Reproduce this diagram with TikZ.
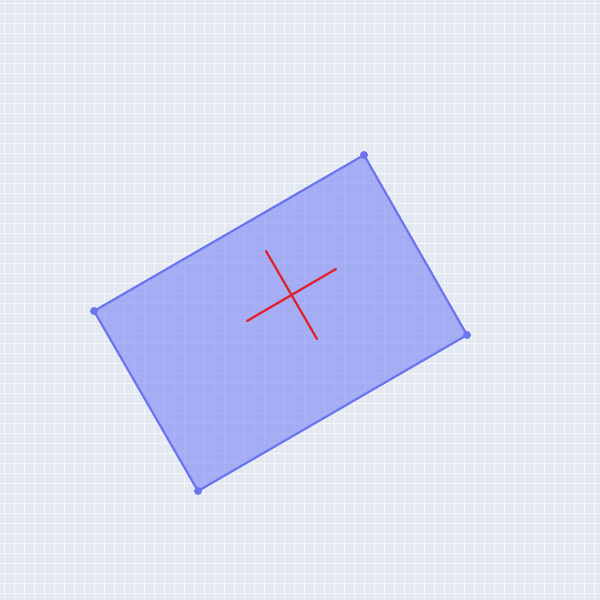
\documentclass[tikz,border=0pt]{standalone}
\begin{document}
\begin{tikzpicture}[x=1pt,y=-1pt,
  gridline/.style={draw=gridc,line width=1pt},
  rectshape/.style={fill=fillc,fill opacity=0.5,draw=edgec,line width=2.2pt,line join=round},
  corner/.style={circle,fill=edgec,inner sep=0pt,minimum size=8pt},
  crossline/.style={draw=crossc,line width=2.2pt,line cap=round}]
\definecolor{bgc}{HTML}{E4E9F1}
\definecolor{gridc}{HTML}{F4F6F9}
\definecolor{fillc}{HTML}{6670F8}
\definecolor{edgec}{HTML}{6C75EE}
\definecolor{crossc}{HTML}{E0202A}
\useasboundingbox (0,0) rectangle (600,600);
\fill[bgc] (0,0) rectangle (600,600);
\foreach \i in {0,...,59}{
  \draw[gridline] (4+10*\i,0) -- (4+10*\i,600);
  \draw[gridline] (0,3+10*\i) -- (600,3+10*\i);
}
\coordinate (A) at (364,155);
\coordinate (B) at (467,335);
\coordinate (C) at (198,491);
\coordinate (D) at (94,311);
\path[rectshape] (A) -- (B) -- (C) -- (D) -- cycle;
\node[corner] (a) at (A) {};
\node[corner] (b) at (B) {};
\node[corner] (c) at (C) {};
\node[corner] (d) at (D) {};
\coordinate (p1) at (266,251);
\coordinate (p2) at (317,339);
\coordinate (q1) at (247,321);
\coordinate (q2) at (336,269);
\draw[crossline] (p1) -- (p2);
\draw[crossline] (q1) -- (q2);
\end{tikzpicture}
\end{document}
